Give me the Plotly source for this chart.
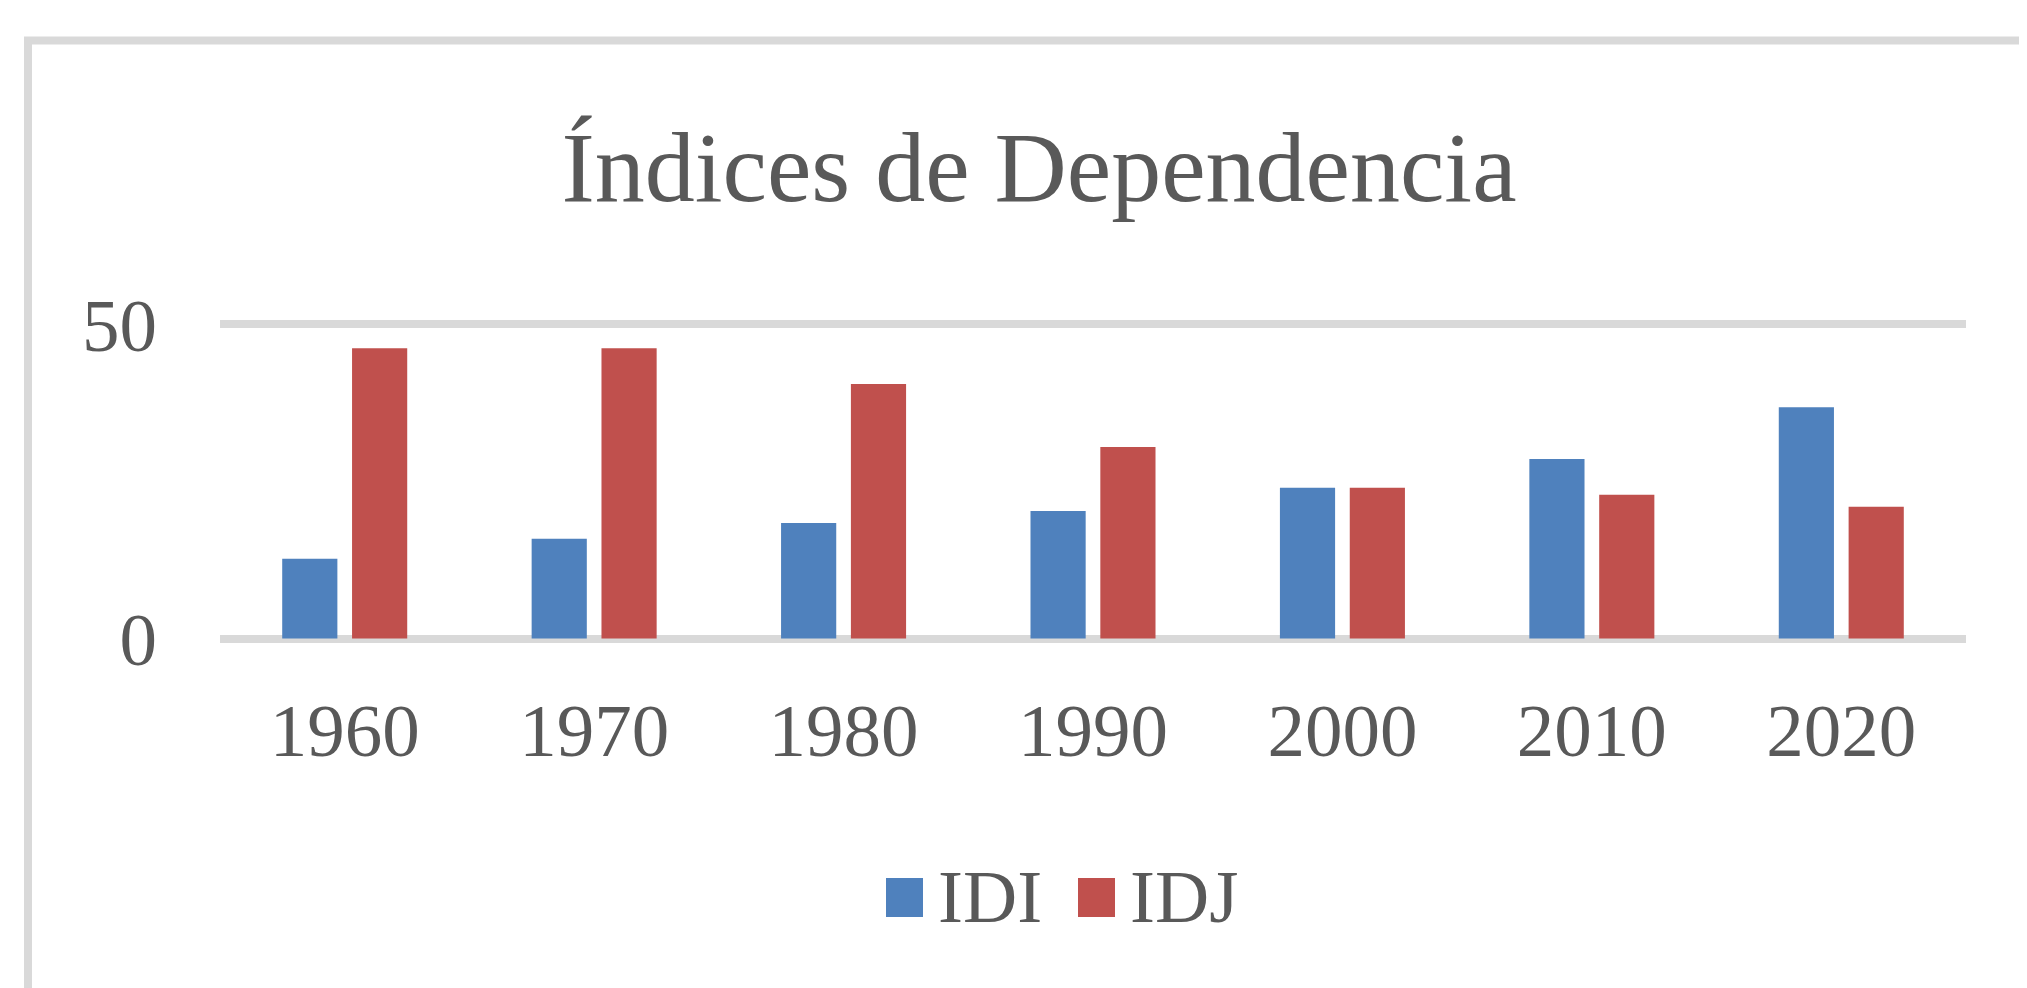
import plotly.graph_objects as go

# ---- data ----
years = ["1960", "1970", "1980", "1990", "2000", "2010", "2020"]
idi = [12.7, 15.9, 18.4, 20.3, 24.0, 28.6, 36.8]
idj = [46.2, 46.2, 40.5, 30.5, 24.0, 22.9, 21.0]
series_names = ["IDI", "IDJ"]
series_colors = ["#4F81BD", "#C0504D"]
y_ticks = [0, 50]
title_text = "Índices de Dependencia"

# ---- layout geometry (page pixels; page body has an 8px margin) ----
OFF = 8
W, H = 2027, 988
PLOT_L, PLOT_R, PLOT_T, PLOT_B = 220, 1966, 320, 643  # page coords
L = PLOT_L - OFF
T = PLOT_T - OFF
R = W - (PLOT_R - OFF)
B = H - (PLOT_B - OFF)
pw = W - L - R
ph = H - T - B
FONT = "Liberation Serif"
GRAY = "#595959"


def px(x):
    return (x - OFF - L) / pw


def py(y):
    return (H - B - (y - OFF)) / ph


fig = go.Figure()
for name, vals, col in zip(series_names, [idi, idj], series_colors):
    fig.add_bar(x=years, y=vals, name=name, marker_color=col,
                marker_line_width=0, showlegend=False)

shapes = [
    # chart frame (extends beyond the visible right/bottom edges)
    dict(type="rect", xref="paper", yref="paper",
         x0=px(28), x1=px(2200), y0=py(1200), y1=py(40.5),
         line=dict(color="#D9D9D9", width=8), fillcolor="rgba(0,0,0,0)",
         layer="below"),
]
annotations = []
# legend
leg_x = [886, 1078]
for name, col, x0 in zip(series_names, series_colors, leg_x):
    shapes.append(dict(type="rect", xref="paper", yref="paper",
                       x0=px(x0), x1=px(x0 + 37), y0=py(917), y1=py(878),
                       fillcolor=col, line=dict(width=0)))
    annotations.append(dict(text=name, xref="paper", yref="paper",
                            x=px(x0 + 50), y=py(896), xanchor="left",
                            yanchor="middle", showarrow=False,
                            font=dict(family=FONT, size=75, color=GRAY)))

fig.update_layout(
    width=W, height=H,
    margin=dict(l=L, r=R, t=T, b=B, pad=0),
    paper_bgcolor="white", plot_bgcolor="white",
    barmode="group", bargap=0.44, bargroupgap=0.21,
    title=dict(text=title_text, x=(1039 - OFF) / W, xanchor="center",
               y=1 - (166 - OFF) / H, yanchor="middle", yref="container",
               font=dict(family=FONT, size=100, color=GRAY)),
    xaxis=dict(type="category", showgrid=False, zeroline=False,
               showline=False, ticks="", ticklabelstandoff=37,
               tickfont=dict(family=FONT, size=75, color=GRAY)),
    yaxis=dict(range=[-0.7, 50.7], tickvals=y_ticks, showgrid=True,
               gridcolor="#D9D9D9", gridwidth=8, zeroline=False,
               showline=False, ticks="", ticklabelstandoff=62,
               tickfont=dict(family=FONT, size=75, color=GRAY)),
    shapes=shapes, annotations=annotations,
    showlegend=False,
)

fig.write_html("out.html")
